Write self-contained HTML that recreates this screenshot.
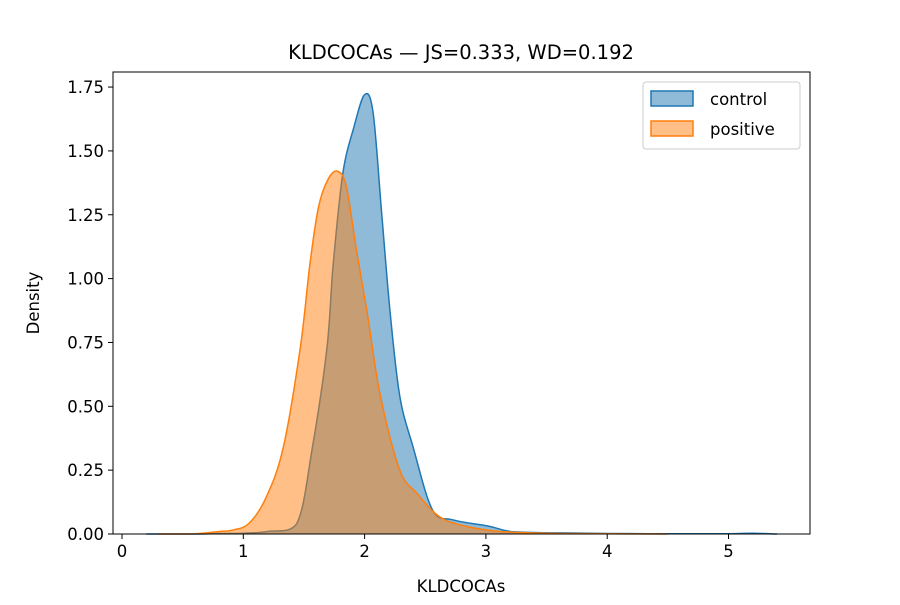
<!DOCTYPE html>
<html><head><meta charset="utf-8"><style>
body{margin:0;background:#fff;font-family:"Liberation Sans","DejaVu Sans",sans-serif}
svg text{font-family:"DejaVu Sans","Liberation Sans",sans-serif;fill:#000}
</style></head><body>
<svg id="chart" width="900" height="600" xmlns="http://www.w3.org/2000/svg">
<rect width="900" height="600" fill="#fff"/>
<text x="461" y="59" font-size="19.5" text-anchor="middle">KLDCOCAs — JS=0.333, WD=0.192</text>
<g id="plot"></g>
<rect x="113" y="72" width="697" height="462" fill="none" stroke="#000" stroke-width="1"/>
<g id="axes"></g>
<text x="461" y="592" font-size="16.5" text-anchor="middle">KLDCOCAs</text>
<text transform="translate(39,303) rotate(-90)" font-size="16.5" text-anchor="middle">Density</text>
<g>
<rect x="643" y="82" width="157" height="67" rx="3" fill="#fff" fill-opacity="0.8" stroke="#ccc"/>
<rect x="651" y="91" width="42" height="15" fill="#1f77b4" fill-opacity="0.5" stroke="#1f77b4" stroke-width="1.5"/>
<text x="710" y="105" font-size="16.5">control</text>
<rect x="651" y="121" width="42" height="15" fill="#ff7f0e" fill-opacity="0.5" stroke="#ff7f0e" stroke-width="1.5"/>
<text x="710" y="135" font-size="16.5">positive</text>
</g>
</svg>
<script>
const controlX=[0.2,0.6,0.8,1.0,1.2,1.44,1.57,1.69,1.74,1.82,1.91,2.0,2.07,2.14,2.21,2.29,2.40,2.56,2.73,3.03,3.2,3.5,3.7,4.0,4.5,5.0,5.2,5.4];
const controlY=[0,0,0.002,0.003,0.01,0.04,0.34,0.73,1.05,1.41,1.59,1.72,1.65,1.26,0.87,0.54,0.34,0.094,0.055,0.03,0.01,0.005,0.004,0.002,0.001,0.001,0.003,0];
const positiveX=[0.3,0.6,0.8,0.92,1.05,1.19,1.33,1.47,1.55,1.62,1.70,1.78,1.85,1.93,2.02,2.13,2.29,2.43,2.62,2.84,3.12,3.5,4.0,4.5];
const positiveY=[0,0.001,0.01,0.016,0.043,0.145,0.34,0.73,1.06,1.28,1.39,1.42,1.36,1.12,0.87,0.54,0.25,0.16,0.067,0.03,0.01,0.003,0.001,0];
const xTicks=[0,1,2,3,4,5];
const yTicks=[0,0.25,0.5,0.75,1.0,1.25,1.5,1.75];
const yTickLabels=["0.00","0.25","0.50","0.75","1.00","1.25","1.50","1.75"];
const NS="http://www.w3.org/2000/svg";
const xs=v=>122+121.3*v, ys=d=>534-255.4*d;
const plot=document.getElementById('plot'), axes=document.getElementById('axes');
function curve(X,Y,color,name){
  let pts=X.map((x,i)=>[xs(x),ys(Y[i])]);
  let d='M'+pts[0][0]+','+pts[0][1];
  for(let i=0;i<pts.length-1;i++){
    const p0=pts[Math.max(0,i-1)],p1=pts[i],p2=pts[i+1],p3=pts[Math.min(pts.length-1,i+2)];
    d+=` C${p1[0]+(p2[0]-p0[0])/6},${Math.min(534,p1[1]+(p2[1]-p0[1])/6)} ${p2[0]-(p3[0]-p1[0])/6},${Math.min(534,p2[1]-(p3[1]-p1[1])/6)} ${p2[0]},${p2[1]}`;
  }
  const f=document.createElementNS(NS,'path');
  f.setAttribute('d',d+` L${pts[pts.length-1][0]},534 L${pts[0][0]},534 Z`);
  f.setAttribute('fill',color);f.setAttribute('fill-opacity','0.5');
  
  
  plot.appendChild(f);
  const l=document.createElementNS(NS,'path');
  l.setAttribute('d',d);l.setAttribute('fill','none');l.setAttribute('stroke',color);l.setAttribute('stroke-width','1.5');
  
  
  plot.appendChild(l);
}
curve(controlX,controlY,'#1f77b4','control');
curve(positiveX,positiveY,'#ff7f0e','positive');
xTicks.forEach(v=>{
  const t=document.createElementNS(NS,'line');
  t.setAttribute('x1',xs(v));t.setAttribute('x2',xs(v));t.setAttribute('y1',534);t.setAttribute('y2',539);t.setAttribute('stroke','#000');
  
  
  axes.appendChild(t);
  const tx=document.createElementNS(NS,'text');
  tx.setAttribute('x',xs(v));tx.setAttribute('y',557);tx.setAttribute('font-size','16.5');tx.setAttribute('text-anchor','middle');
  tx.textContent=v;
  
  
  axes.appendChild(tx);
});
yTicks.forEach((v,i)=>{
  const t=document.createElementNS(NS,'line');
  t.setAttribute('x1',108);t.setAttribute('x2',113);t.setAttribute('y1',ys(v));t.setAttribute('y2',ys(v));t.setAttribute('stroke','#000');
  
  
  axes.appendChild(t);
  const tx=document.createElementNS(NS,'text');
  tx.setAttribute('x',104);tx.setAttribute('y',ys(v)+6);tx.setAttribute('font-size','16.5');tx.setAttribute('text-anchor','end');
  tx.textContent=yTickLabels[i];
  
  
  axes.appendChild(tx);
});
</script>
</body></html>
